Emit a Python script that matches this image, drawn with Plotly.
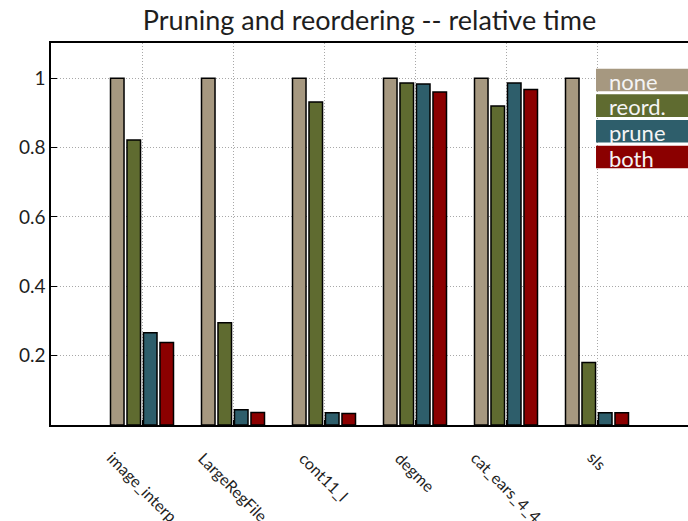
import plotly.graph_objects as go

# Benchmarks and relative run times (normalised to the unmodified run)
benchmarks = ["image_interp", "LargeRegFile", "cont11_l", "degme", "cat_ears_4_4", "sls"]
none_vals = [1.0, 1.0, 1.0, 1.0, 1.0, 1.0]
reord_vals = [0.822, 0.295, 0.931, 0.986, 0.920, 0.180]
prune_vals = [0.266, 0.044, 0.035, 0.983, 0.986, 0.035]
both_vals = [0.238, 0.036, 0.033, 0.960, 0.967, 0.035]

series_names = ["none", "reord.", "prune", "both"]
series_vals = [none_vals, reord_vals, prune_vals, both_vals]
series_colors = ["#a69880", "#5f6b30", "#2e5e6b", "#8b0000"]

y_ticks = [0.2, 0.4, 0.6, 0.8, 1.0]
y_tick_text = ["0.2", "0.4", "0.6", "0.8", "1"]

FONT = "Lato"
TEXT = "#1e1e1e"

fig = go.Figure()
for name, vals, color in zip(series_names, series_vals, series_colors):
    fig.add_trace(go.Bar(
        x=benchmarks, y=vals, name=name,
        marker=dict(color=color, line=dict(color="black", width=1.5)),
        showlegend=False,
    ))

# Rotated benchmark labels under the axis
for b in benchmarks:
    fig.add_annotation(
        x=b, y=0, xref="x", yref="y", text=b, showarrow=False,
        textangle=45, xanchor="center", yanchor="top", yshift=-20,
        font=dict(family=FONT, size=16, color=TEXT),
    )

# Legend drawn as coloured blocks with text inside
leg_x0, leg_x1 = 0.8556, 1.0
leg_top, leg_h, leg_step = 0.9328, 0.059, 0.0672
for i, (name, color) in enumerate(zip(series_names, series_colors)):
    y1 = leg_top - i * leg_step
    y0 = y1 - leg_h
    fig.add_shape(type="rect", xref="paper", yref="paper",
                  x0=leg_x0, x1=leg_x1, y0=y0, y1=y1,
                  fillcolor=color, line=dict(width=0), layer="above")
    fig.add_annotation(x=leg_x0 + 0.017, y=(y0 + y1) / 2 - 0.003,
                       xref="paper", yref="paper", text=name,
                       showarrow=False, xanchor="left", yanchor="middle",
                       font=dict(family=FONT, size=22, color="#f4f4f4"))

fig.update_layout(
    width=688, height=521,
    margin=dict(l=51, r=0, t=43, b=96),
    plot_bgcolor="white", paper_bgcolor="white",
    barmode="group", bargap=0.275, bargroupgap=0.18,
    title=dict(text="Pruning and reordering -- relative time",
               x=0.5, xref="paper", y=0.978, yref="container", yanchor="top",
               font=dict(family=FONT, size=27, color=TEXT)),
    font=dict(family=FONT, color=TEXT),
    xaxis=dict(
        type="category", range=[-1, 6.0],
        showticklabels=False, ticks="inside", ticklen=5, tickcolor="black",
        showgrid=True, gridcolor="#a8a8a8", griddash="1px,2px", gridwidth=1,
        showline=True, linecolor="black", linewidth=2, mirror=True,
        zeroline=False,
    ),
    yaxis=dict(
        range=[0, 1.1014], tickvals=y_ticks, ticktext=y_tick_text,
        ticks="inside", ticklen=6, tickcolor="black",
        showgrid=True, gridcolor="#a8a8a8", griddash="1px,2px", gridwidth=1,
        showline=True, linecolor="black", linewidth=1.5, mirror=False,
        zeroline=False,
        tickfont=dict(family=FONT, size=19, color=TEXT),
    ),
)

fig.write_html("out.html")
